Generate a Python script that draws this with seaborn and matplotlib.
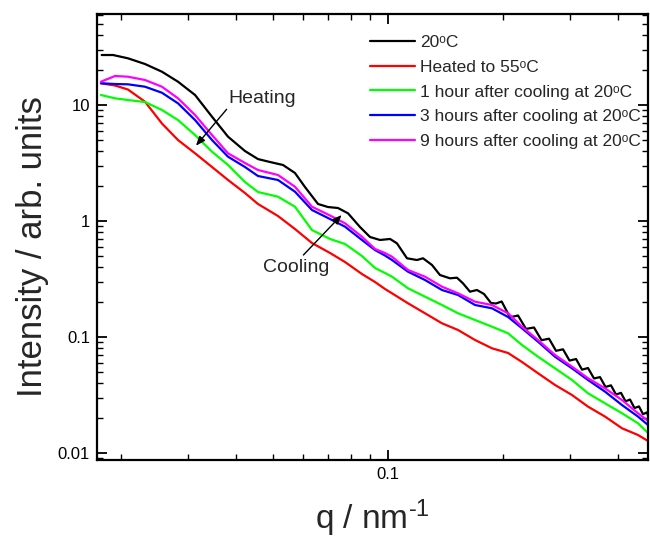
import numpy as np
import pandas as pd
import matplotlib
matplotlib.use("Agg")
import matplotlib.pyplot as plt
import matplotlib.ticker as mticker
import seaborn as sns

# ---------------- data ----------------
series_names = [
    "20ᵒC",
    "Heated to 55ᵒC",
    "1 hour after cooling at 20ᵒC",
    "3 hours after cooling at 20ᵒC",
    "9 hours after cooling at 20ᵒC",
]
series_colors = ["#000000", "#ff0000", "#00ff00", "#0000ff", "#ff00ff"]

q_black = [0.01785, 0.01911, 0.02091, 0.02317, 0.02566, 0.02827, 0.03133, 0.0347,
           0.03822, 0.04233, 0.04578, 0.04922, 0.05323, 0.05722, 0.06077, 0.06574,
           0.06982, 0.07416, 0.07878, 0.08466, 0.08995, 0.09552, 0.1015, 0.1058,
           0.1124, 0.1194, 0.1238, 0.1307, 0.1371, 0.1456, 0.1519, 0.1575, 0.1643,
           0.1714, 0.1788, 0.1865, 0.1922, 0.1989, 0.2091, 0.2195, 0.2303, 0.2417,
           0.2529, 0.2646, 0.2760, 0.2879, 0.2994, 0.3114, 0.3228, 0.3347, 0.3470,
           0.3598, 0.3719, 0.3844, 0.3962, 0.4083, 0.4196, 0.4311, 0.4429, 0.4551,
           0.4662, 0.4776, 0.481]
I_20C = [26.98, 26.98, 25.27, 22.57, 19.37, 15.88, 12.20, 7.93, 5.33, 4.012, 3.42,
         3.226, 3.040, 2.593, 1.964, 1.402, 1.320, 1.294, 1.165, 0.888, 0.728, 0.686,
         0.700, 0.642, 0.477, 0.461, 0.477, 0.4175, 0.3423, 0.3206, 0.3245, 0.2904,
         0.2458, 0.2541, 0.2348, 0.1964, 0.1944, 0.2023, 0.1479, 0.1532, 0.1174,
         0.1208, 0.0938, 0.0967, 0.0760, 0.0783, 0.0626, 0.0646, 0.0523, 0.0540,
         0.0439, 0.0451, 0.0371, 0.0383, 0.0319, 0.0330, 0.0279, 0.0289, 0.0244,
         0.0252, 0.0216, 0.0224, 0.0208]

q_common = [0.01777, 0.01934, 0.02091, 0.02317, 0.02566, 0.02827, 0.03133, 0.0347,
            0.03822, 0.04233, 0.04578, 0.05165, 0.05722, 0.06339, 0.07068, 0.07737,
            0.08569, 0.09269, 0.09844, 0.1027, 0.1131, 0.1253, 0.1388, 0.1529,
            0.1694, 0.1876, 0.2067, 0.2248, 0.2476, 0.2743, 0.3039, 0.3347, 0.3708,
            0.4108, 0.4524, 0.4805]
I_55C = [15.39, 14.73, 13.60, 10.68, 6.93, 4.99, 3.834, 2.921, 2.257, 1.743, 1.402,
         1.104, 0.853, 0.646, 0.530, 0.443, 0.349, 0.298, 0.2594, 0.2380, 0.1952,
         0.1601, 0.1312, 0.1149, 0.0942, 0.0799, 0.0728, 0.0609, 0.0487, 0.0386,
         0.0316, 0.0251, 0.0206, 0.01633, 0.01429, 0.01269]
I_1h = [12.20, 11.42, 11.04, 10.61, 9.06, 7.42, 5.51, 3.958, 3.040, 2.169, 1.778,
        1.620, 1.328, 0.836, 0.700, 0.633, 0.499, 0.3934, 0.3562, 0.331, 0.2629,
        0.2226, 0.1887, 0.1601, 0.1401, 0.1227, 0.1076, 0.0853, 0.0676, 0.0537,
        0.0426, 0.0327, 0.0268, 0.0220, 0.01803, 0.01488]
I_3h = [15.39, 15.17, 15.08, 14.38, 12.76, 10.34, 7.42, 4.99, 3.584, 2.921, 2.443,
        2.257, 1.789, 1.244, 1.040, 0.893, 0.686, 0.562, 0.504, 0.461, 0.3655, 0.310,
        0.2541, 0.2302, 0.1887, 0.1768, 0.1488, 0.1189, 0.0911, 0.0676, 0.0537,
        0.0426, 0.0338, 0.0259, 0.0206, 0.01743]
I_9h = [15.88, 17.78, 17.54, 16.43, 14.38, 11.42, 8.20, 5.51, 3.834, 3.162, 2.752,
        2.492, 1.975, 1.328, 1.115, 0.955, 0.732, 0.574, 0.530, 0.492, 0.378, 0.331,
        0.2714, 0.2380, 0.2015, 0.1887, 0.1601, 0.1227, 0.0942, 0.0700, 0.0555,
        0.0441, 0.0361, 0.0286, 0.0220, 0.0189]

x_ticks = [0.1]
y_ticks = [0.01, 0.1, 1, 10]

# ---------------- build table ----------------
frames = [pd.DataFrame({"q": q_black, "I": I_20C, "series": series_names[0]})]
for name, vals in zip(series_names[1:], [I_55C, I_1h, I_3h, I_9h]):
    frames.append(pd.DataFrame({"q": q_common, "I": vals, "series": name}))
df = pd.concat(frames, ignore_index=True)

# ---------------- style ----------------
sns.set_style("ticks")
plt.rcParams["font.family"] = ["Liberation Sans", "DejaVu Sans"]
plt.rcParams["mathtext.fontset"] = "custom"
plt.rcParams["mathtext.rm"] = "Liberation Sans"
plt.rcParams["mathtext.it"] = "Liberation Sans:italic"
plt.rcParams["mathtext.bf"] = "Liberation Sans:bold"

fig = plt.figure(figsize=(6.5, 5.4), dpi=100)
ax = fig.add_axes([97 / 650, 1 - 460 / 540, (648 - 97) / 650, (460 - 14) / 540])

sns.lineplot(data=df, x="q", y="I", hue="series", hue_order=series_names,
             palette=series_colors, estimator=None, sort=False, linewidth=1.6,
             ax=ax, legend=True)

ax.set_xscale("log")
ax.set_yscale("log")
ax.set_xlim(0.01735, 0.4805)
ax.set_ylim(0.0087, 60.9)

ax.xaxis.set_major_locator(mticker.FixedLocator(x_ticks))
ax.xaxis.set_minor_locator(mticker.LogLocator(base=10, subs=np.arange(2, 10)))
ax.yaxis.set_major_locator(mticker.FixedLocator(y_ticks))
ax.yaxis.set_minor_locator(mticker.LogLocator(base=10, subs=np.arange(2, 10)))
fmt = mticker.FuncFormatter(lambda v, _: f"{v:g}")
ax.xaxis.set_major_formatter(fmt)
ax.yaxis.set_major_formatter(fmt)
ax.xaxis.set_minor_formatter(mticker.NullFormatter())
ax.yaxis.set_minor_formatter(mticker.NullFormatter())

ax.tick_params(which="both", direction="in", top=True, right=True, colors="black",
               labelsize=12, pad=5)
ax.tick_params(which="major", length=7, width=1.3)
ax.tick_params(which="minor", length=4, width=1.0)
for sp in ax.spines.values():
    sp.set_linewidth(1.6)
    sp.set_color("black")

ax.set_xlabel(r"q / nm$^{\text{-1}}$", fontsize=24)
ax.set_ylabel("Intensity / arb. units", fontsize=25)
ax.xaxis.set_label_coords(0.5, -0.085)
ax.yaxis.set_label_coords(-0.087, 0.479)

# annotations
ax.annotate("", xy=(0.0315, 4.457), xytext=(0.0379, 9.18),
            arrowprops=dict(arrowstyle="-|>,head_length=0.55,head_width=0.22",
                            color="black", lw=1.0, shrinkA=0, shrinkB=0))
ax.text(0.04705, 11.38, "Heating", fontsize=14, ha="center", va="center")
ax.annotate("", xy=(0.0758, 1.127), xytext=(0.0602, 0.509),
            arrowprops=dict(arrowstyle="-|>,head_length=0.55,head_width=0.22",
                            color="black", lw=1.0, shrinkA=0, shrinkB=0))
ax.text(0.0575, 0.3973, "Cooling", fontsize=14, ha="center", va="center")

sns.move_legend(ax, loc="upper left", bbox_to_anchor=(0.4955, 0.953),
                frameon=False, title=None, fontsize=12.5, handlelength=2.6,
                handletextpad=0.3, labelspacing=0.55, borderpad=0, borderaxespad=0)

fig.savefig("out.png", dpi=100)
